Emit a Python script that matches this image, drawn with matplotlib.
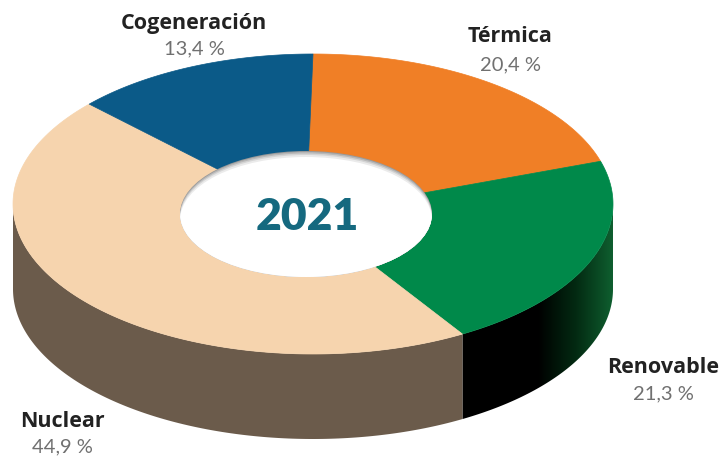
import numpy as np
import matplotlib.pyplot as plt
from matplotlib.patches import Polygon, Ellipse
from matplotlib.colors import LinearSegmentedColormap

# data
labels = ["Térmica", "Renovable", "Nuclear", "Cogeneración"]
shares = [20.4, 21.3, 44.9, 13.4]
pct_text = ["20,4 %", "21,3 %", "44,9 %", "13,4 %"]
top_colors = ["#f07f26", "#00894a", "#f6d4ae", "#0b5a88"]
side_colors = ["#b35a14", "#000000", "#6b5b4b", "#083f61"]
year = "2021"

# geometry (pixels)
cx, cy = 313, 205
a, b = 300, 150
depth = 85
hx, hy, ha, hb = 306, 215, 126, 63

fig = plt.figure(figsize=(7.22, 4.60), dpi=100)
ax = fig.add_axes([0, 0, 1, 1])
ax.set_xlim(0, 722)
ax.set_ylim(460, 0)
ax.axis("off")


def pt(t, dz=0):
    return cx + a * np.cos(t), cy - b * np.sin(t) + dz


# slice angles, clockwise from 12 o'clock
ends = 90 - 360 * np.cumsum(shares) / 100.0
starts = np.concatenate([[90], ends[:-1]])

green_wall = LinearSegmentedColormap.from_list(
    "gw", [(0, "#000000"), (0.5, "#000000"), (0.75, "#032a12"), (1, "#0f6030")])

# side walls (front half only: angles -180..0)
for i in range(len(shares)):
    t_hi, t_lo = starts[i], ends[i]
    for off in (0, -360, 360):
        hi = min(t_hi + off, 0)
        lo = max(t_lo + off, -180)
        if hi <= lo:
            continue
        ts = np.radians(np.linspace(lo, hi, 150))
        top = [pt(t) for t in ts]
        bot = [pt(t, depth) for t in ts[::-1]]
        if labels[i] == "Renovable":
            wall = Polygon(top + bot, closed=True, facecolor="none",
                           edgecolor="none", zorder=2)
            ax.add_patch(wall)
            xs = [p[0] for p in top]
            x0, x1 = min(xs), max(xs)
            grad = np.linspace(0, 1, 256).reshape(1, -1)
            im = ax.imshow(grad, cmap=green_wall, aspect="auto",
                           extent=(x0, x1 + 1, cy + b + depth + 5, cy - 20),
                           zorder=2, interpolation="bilinear")
            im.set_clip_path(wall)
        else:
            ax.add_patch(Polygon(top + bot, closed=True,
                                 facecolor=side_colors[i], edgecolor="none",
                                 zorder=2))
ax.set_xlim(0, 722)
ax.set_ylim(460, 0)

# top faces
for i in range(len(shares)):
    ts = np.radians(np.linspace(starts[i], ends[i], 200))
    poly = [(hx, hy)] + [pt(t) for t in ts]
    ax.add_patch(Polygon(poly, closed=True, facecolor=top_colors[i],
                         edgecolor=top_colors[i], lw=0.5, zorder=3))

# hole with soft shadow on its upper edge
hole = Ellipse((hx, hy), 2 * ha, 2 * hb, facecolor="#9a9a9a",
               edgecolor="none", zorder=4)
ax.add_patch(hole)
for k, (dy, col) in enumerate([(1, "#b8b8b8"), (2.5, "#d4d4d4"),
                               (4, "#ebebeb"), (6, "#ffffff")]):
    e = Ellipse((hx, hy + dy), 2 * ha, 2 * hb, facecolor=col,
                edgecolor="none", zorder=5 + k)
    ax.add_patch(e)
    e.set_clip_path(hole)

ax.text(hx + 1, hy + 2, year, ha="center", va="center", fontsize=32,
        fontweight="heavy", color="#15697f", family="Lato", zorder=10)

# labels
lab_pos = [(510, 37, 65), (663, 368, 394), (62, 422, 447), (194, 23, 49)]
for i in range(len(labels)):
    x, y1, y2 = lab_pos[i]
    ax.text(x, y1, labels[i], ha="center", va="center", fontsize=15.5,
            fontweight="bold", color="#222222", family="Open Sans")
    ax.text(x, y2, pct_text[i], ha="center", va="center", fontsize=14.5,
            color="#707070", family="Lato")

fig.savefig("out.png", dpi=100)
